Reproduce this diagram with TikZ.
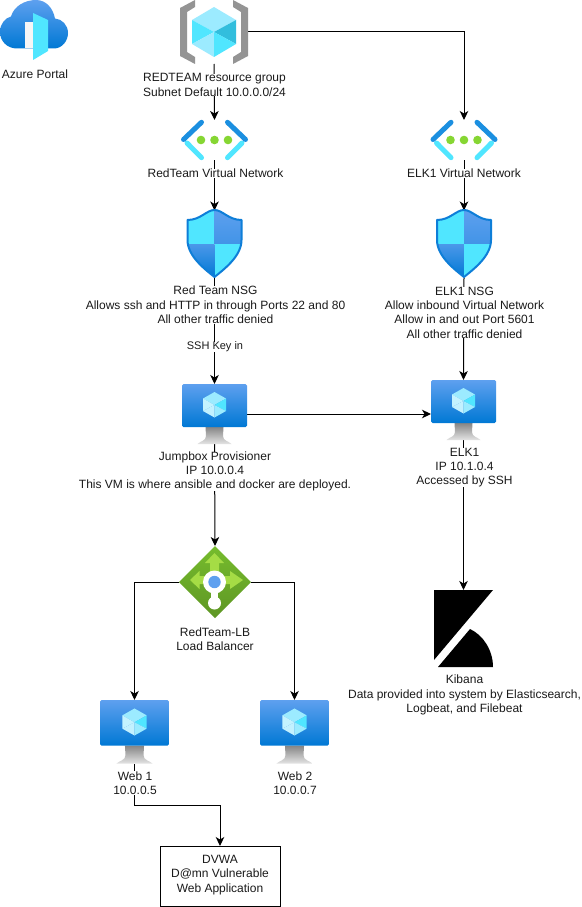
\documentclass[tikz,border=0pt]{standalone}
\usepackage{fontspec}
\setmainfont{Liberation Sans}
\usetikzlibrary{arrows.meta,calc}
\definecolor{azA}{HTML}{5EA0EF}
\definecolor{azB}{HTML}{0078D4}
\definecolor{cyA}{HTML}{50E6FF}
\definecolor{cyB}{HTML}{9CEBFF}
\definecolor{cyC}{HTML}{32BEDD}
\definecolor{cyD}{HTML}{C3F1FF}
\definecolor{gryB}{HTML}{949494}
\definecolor{grnA}{HTML}{76BC2D}
\definecolor{grnB}{HTML}{5E9624}
\definecolor{grnC}{HTML}{A5DC45}
\definecolor{dotG}{HTML}{86D633}
\definecolor{txtC}{HTML}{1A1A1A}
\definecolor{vnB}{HTML}{1B8FE0}
\tikzset{
  iconbox/.style={inner sep=0pt,outer sep=0pt,minimum width=#1},
  lbl/.style={font=\fontsize{12}{14.3}\selectfont,text=txtC,align=center,fill=white,inner sep=0pt,outer sep=0pt},
  conn/.style={draw=black,line width=1pt,-{Stealth[length=9pt,width=8.5pt,inset=2.5pt]}},
  cubeicon/.pic={
    \fill[cyB] (0,-25)--(22,-12)--(0,0)--(-22,-12)--cycle;
    \fill[cyA] (-22,-12)--(0,0)--(-22,12)--cycle;
    \fill[cyB] (-22,12)--(0,0)--(0,25)--cycle;
    \fill[cyC] (22,-12)--(0,0)--(22,12)--cycle;
    \fill[cyA] (0,0)--(22,12)--(0,25)--cycle;
  },
  vnicon/.pic={
    \draw[cyA,line width=5pt,line cap=round] (-27.5,3) -- (-13,17.7);
    \draw[vnB,line width=5pt,line cap=round] (-31,-0.5) -- (-13,-17.7);
    \draw[cyA,line width=5pt,line cap=round] (27.5,3) -- (13,17.7);
    \draw[vnB,line width=5pt,line cap=round] (31,-0.5) -- (13,-17.7);
    \fill[dotG] (-13.5,0) circle (4.3);
    \fill[dotG] (0,0) circle (4.3);
    \fill[dotG] (13.5,0) circle (4.3);
  },
  shieldicon/.pic={
    \begin{scope}
      \clip (0,-34) .. controls (-8,-34) and (-14,-24) .. (-27,-24) -- (-27,-4)
        .. controls (-27,12) and (-10,25) .. (0,33)
        .. controls (10,25) and (27,12) .. (27,-4) -- (27,-24)
        .. controls (14,-24) and (8,-34) .. (0,-34) -- cycle;
      \fill[cyA] (-28,-35) rectangle (0,0);
      \shade[top color=azA,bottom color=azA!70!azB] (0,-35) rectangle (28,0);
      \shade[top color=azA!80!azB,bottom color=azB] (-28,0) rectangle (0,34);
      \fill[cyA] (0,0) rectangle (28,34);
    \end{scope}
    \draw[azB!85!azA,line width=2pt,line join=round] (0,-34) .. controls (-8,-34) and (-14,-24) .. (-27,-24) -- (-27,-4)
        .. controls (-27,12) and (-10,25) .. (0,33)
        .. controls (10,25) and (27,12) .. (27,-4) -- (27,-24)
        .. controls (14,-24) and (8,-34) .. (0,-34) -- cycle;
  },
  vmicon/.pic={
    \shade[top color=gryB!90!black,bottom color=gryB!25!white] (-9,13) -- (9,13) -- (8.5,22)
       .. controls (8.5,27) and (14,27) .. (17,30) -- (-17,30) .. controls (-14,27) and (-8.5,27) .. (-8.5,22) -- cycle;
    \shade[top color=azA,bottom color=azB,rounded corners=1.5pt] (-32.5,-30) rectangle (32.5,13);
    \fill[cyB] (0,-22)--(11.5,-15.5)--(0,-9)--(-11.5,-15.5)--cycle;
    \fill[cyB!60!white] (-11.5,-15.5)--(0,-9)--(-11.5,-3)--cycle;
    \fill[cyD] (-11.5,-3)--(0,-9)--(0,3.5)--cycle;
    \fill[cyA] (11.5,-15.5)--(0,-9)--(11.5,-3)--cycle;
    \fill[cyB] (0,-9)--(11.5,-3)--(0,3.5)--cycle;
  },
}
\begin{document}
\begin{tikzpicture}[x=1pt,y=-1pt]
\useasboundingbox (0,0) rectangle (581,907);
\fill[white] (0,0) rectangle (581,907);

% invisible icon frames for connectors
\node[iconbox=68,minimum height=64] (rg) at (214,32) {};
\node[iconbox=66,minimum height=40] (vnetA) at (214.5,140) {};
\node[iconbox=66,minimum height=40] (vnetB) at (464,140) {};
\node[iconbox=54,minimum height=67] (nsgA) at (214.5,244) {};
\node[iconbox=54,minimum height=67] (nsgB) at (464,244) {};
\node[iconbox=65,minimum height=60] (jump) at (214.5,414) {};
\node[iconbox=65,minimum height=60] (elkvm) at (463.5,410) {};
\node[iconbox=72,minimum height=72] (lb) at (215,582) {};
\node[iconbox=69,minimum height=64] (webA) at (134.5,732) {};
\node[iconbox=69,minimum height=64] (webB) at (294.5,732) {};
\node[iconbox=59,minimum height=78] (kib) at (463.5,629) {};
\node[draw=black,line width=1pt,inner sep=0pt,minimum width=120,minimum height=60,outer sep=0pt] (dvwa) at (220,876) {};

% connectors
\draw[conn] (rg.south) -- (vnetA.north);
\draw[conn] (rg.east) -| (vnetB.north);
\draw[conn] (vnetA.south) -- (nsgA.north);
\draw[conn] (vnetB.south) -- (nsgB.north);
\draw[conn] (nsgA.south) -- (jump.north);
\draw[conn] (nsgB.south) -- (elkvm.north);
\draw[conn] (jump.east) -- (jump.east -| elkvm.west);
\draw[conn] (jump.south) -- (lb.north);
\draw[conn] (elkvm.south) -- (kib.north);
\draw[conn] (lb.west) -| (webA.north);
\draw[conn] (lb.east) -| (webB.north);
\draw[conn] (webA.south) -- ++(0,41) -| (dvwa.north);

% Azure portal icon
\shade[top color=azA,bottom color=azB] (17,48.5) .. controls (7,48.5) and (0,41) .. (0,32)
  .. controls (0,24) and (5,18) .. (11,16.5) .. controls (14,6) and (25,0) .. (36,0)
  .. controls (46,0) and (53,8) .. (55,18.5) .. controls (62,19) and (68,25) .. (68,33)
  .. controls (68,41) and (62,48.5) .. (54,48.5) -- cycle;
\fill[white!93!gray] (25,22) rectangle (33,48);
\fill[cyA] (33,13) -- (48,20) -- (48,51) -- (33,60) -- cycle;

% resource group icon
\fill[gryB] (180,8)--(195,0)--(195,7)--(187,12)--(187,52)--(195,57)--(195,64)--(180,56)--cycle;
\fill[gryB] (248,8)--(233,0)--(233,7)--(241,12)--(241,52)--(233,57)--(233,64)--(248,56)--cycle;
\pic at (214,32) {cubeicon};

\pic at (214.5,140) {vnicon};
\pic at (464,140) {vnicon};
\pic at (214.5,244) {shieldicon};
\pic at (464,244) {shieldicon};
\pic at (214.5,414) {vmicon};
\pic at (463.5,410) {vmicon};
\pic[scale=1.06] at (134.5,731.8) {vmicon};
\pic[scale=1.06] at (294.5,731.8) {vmicon};

% load balancer icon
\shade[top color=grnA,bottom color=grnB] (215,546)--(251,582)--(215,618)--(179,582)--cycle;
\fill[grnC] (214.5,553)--(224,563)--(219,563)--(219,576)--(210,576)--(210,563)--(205,563)--cycle;
\fill[grnC] (190,580)--(199.5,571)--(199.5,576)--(230,576)--(230,571)--(243,580)--(230,589)--(230,584)--(199.5,584)--(199.5,589)--cycle;
\fill[white] (214.5,582) circle (11.5);
\fill[white] (214.5,603) circle (6.5);
\fill[white] (211,590) rectangle (218,600);
\fill[azA] (214.5,582) circle (6.2);

% Kibana icon
\fill[black] (434,590) -- (493,590) -- (434,660) -- cycle;
\fill[black] (438,667) -- (470,629) .. controls (483,635) and (493,650) .. (493,667) -- cycle;

% labels
\node[lbl] (tAzure) at (35,74) {Azure Portal};
\node[lbl] (tRg) at (214.5,85) {REDTEAM resource group\\Subnet Default 10.0.0.0/24};
\node[lbl] (tVnA) at (215.5,173.5) {RedTeam Virtual Network};
\node[lbl] (tVnB) at (464,173.5) {ELK1 Virtual Network};
\node[lbl] (tNsgA) at (215.5,305) {Red Team NSG\\Allows ssh and HTTP in through Ports 22 and 80\\All other traffic denied};
\node[lbl] (tNsgB) at (464.5,312.5) {ELK1 NSG\\Allow inbound Virtual Network\\Allow in and out Port 5601\\All other traffic denied};
\node[lbl,font=\fontsize{11}{13}\selectfont] (tSsh) at (215,347) {SSH Key in};
\node[lbl] (tJump) at (215,471.5) {Jumpbox Provisioner\\IP 10.0.0.4\\This VM is where ansible and docker are deployed.};
\node[lbl] (tElk) at (464.5,467.5) {ELK1\\IP 10.1.0.4\\Accessed by SSH};
\node[lbl] (tLb) at (215,639) {RedTeam-LB\\Load Balancer};
\node[lbl] (tWebA) at (135,783) {Web 1\\10.0.0.5};
\node[lbl] (tWebB) at (295,783) {Web 2\\10.0.0.7};
\node[lbl] (tKib) at (464.5,695) {Kibana\\Data provided into system by Elasticsearch,\\Logbeat, and Filebeat};
\node[lbl,fill=none] (tDvwa) at (220,875) {DVWA\\D@mn Vulnerable\\Web Application};
\end{tikzpicture}
\end{document}
